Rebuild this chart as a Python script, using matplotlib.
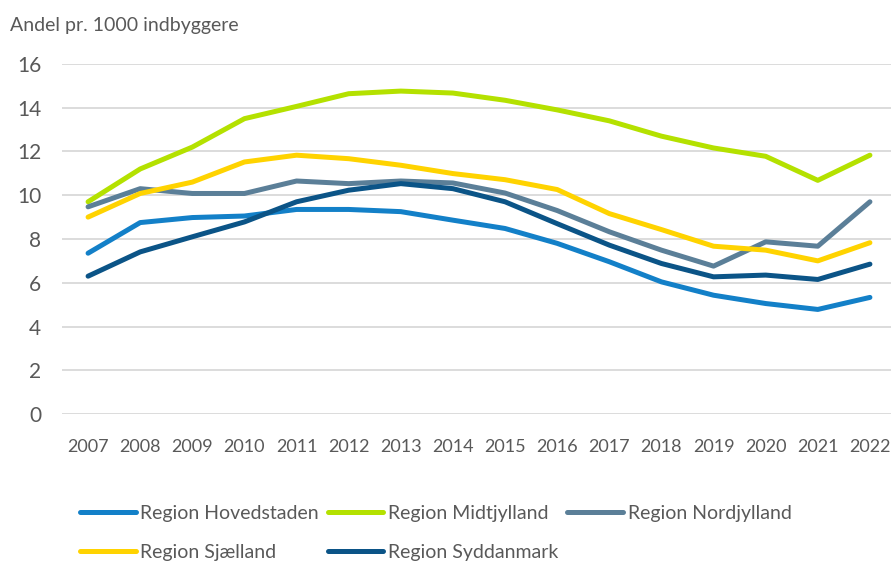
import matplotlib

matplotlib.use("Agg")
import matplotlib.pyplot as plt

plt.rcParams["font.family"] = ["Lato", "DejaVu Sans"]

years = list(range(2007, 2023))

hovedstaden = [7.35, 8.75, 8.98, 9.05, 9.35, 9.35, 9.25, 8.86, 8.48, 7.8,
               6.96, 6.04, 5.43, 5.05, 4.78, 5.33]
midtjylland = [9.7, 11.2, 12.2, 13.5, 14.06, 14.64, 14.76, 14.67, 14.34, 13.9,
               13.4, 12.7, 12.16, 11.78, 10.68, 11.83]
nordjylland = [9.47, 10.3, 10.08, 10.08, 10.65, 10.53, 10.65, 10.56, 10.1, 9.3,
               8.33, 7.49, 6.76, 7.87, 7.67, 9.7]
sjaelland = [9.0, 10.08, 10.6, 11.52, 11.83, 11.67, 11.37, 10.99, 10.71, 10.26,
             9.16, 8.43, 7.67, 7.49, 7.0, 7.83]
syddanmark = [6.3, 7.41, 8.1, 8.78, 9.7, 10.23, 10.53, 10.3, 9.7, 8.7,
              7.72, 6.88, 6.27, 6.35, 6.15, 6.85]

series = [
    ("Region Hovedstaden", hovedstaden, "#1380C8"),
    ("Region Midtjylland", midtjylland, "#B4E100"),
    ("Region Nordjylland", nordjylland, "#5B7F98"),
    ("Region Sjælland", sjaelland, "#FFD300"),
    ("Region Syddanmark", syddanmark, "#0B5487"),
]

text_color = "#595959"

fig = plt.figure(figsize=(8.91, 5.61), dpi=100)
ax = fig.add_axes([0.0696, 0.262, 0.936, 0.624])

handles = {}
for name, vals, color in series:
    (ln,) = ax.plot(years, vals, color=color, linewidth=3.6,
                    solid_capstyle="round", solid_joinstyle="round",
                    clip_on=False, label=name)
    handles[name] = ln

ax.set_xlim(2006.5, 2022.5)
ax.set_ylim(0, 16)
ax.set_yticks(range(0, 17, 2))
ax.set_xticks(years)
ax.grid(axis="y", color="#D9D9D9", linewidth=1.3)
ax.set_axisbelow(True)
for side in ax.spines.values():
    side.set_visible(False)
ax.tick_params(length=0, colors=text_color)
ax.tick_params(axis="y", labelsize=15, pad=15)
ax.tick_params(axis="x", labelsize=13, pad=18)

fig.text(0.011, 0.955, "Andel pr. 1000 indbyggere", fontsize=14,
         color=text_color, va="center")

# matplotlib fills legend columns first, so reorder for row-wise reading
order = ["Region Hovedstaden", "Region Sjælland", "Region Midtjylland",
         "Region Syddanmark", "Region Nordjylland"]
leg = fig.legend([handles[n] for n in order], order, ncol=3,
                 loc="upper left", bbox_to_anchor=(0.09, 0.100),
                 frameon=False, fontsize=14, handlelength=2.85,
                 handletextpad=0.25, columnspacing=0.45, labelspacing=1.12,
                 borderaxespad=0, borderpad=0)
for t in leg.get_texts():
    t.set_color(text_color)

fig.savefig("out.png", dpi=100)
